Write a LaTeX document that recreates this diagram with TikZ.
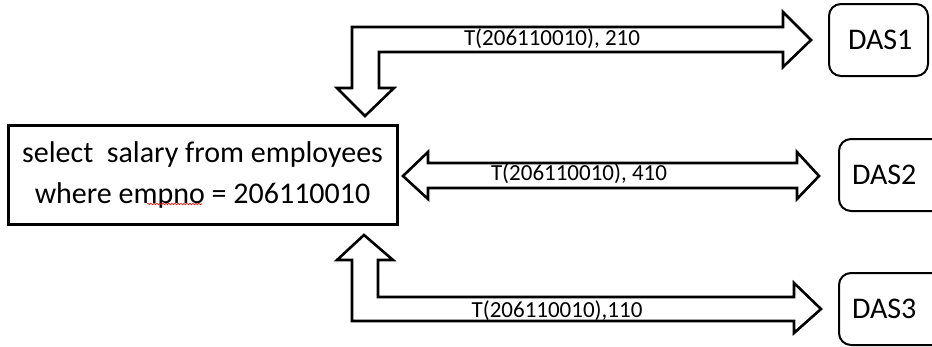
\documentclass[tikz,border=0pt]{standalone}
\usepackage{fontspec}
\setmainfont{Carlito}
\usetikzlibrary{decorations.pathmorphing}

\tikzset{
  blockarrow/.style={draw=black, line width=2.6pt, fill=white, line join=miter},
  querybox/.style={draw=black, line width=3pt, minimum width=389pt, minimum height=99pt, align=center, font=\fontsize{30}{41}\selectfont},
  dasbox/.style={draw=black, line width=2pt, rounded corners=12pt, anchor=west, inner xsep=13pt, text width=73pt, minimum height=72pt, align=left, font=\fontsize{30}{36}\selectfont},
  arrowlabel/.style={font=\fontsize{23}{26}\selectfont, inner sep=0pt}
}

\begin{document}
\begin{tikzpicture}[x=1pt,y=-1pt]
\useasboundingbox (0,0) rectangle (932,346);
\fill[white] (0,0) rectangle (932,346);

% the query
\node[querybox] (query) at (202.5,174.5) {select\ \ salary from employees\\where empno = 206110010};
\draw[red, line width=.6pt, decorate, decoration={snake, amplitude=.8pt, segment length=3pt}] (147,204) -- (202,204);

% the three sites (the lower two run off the right edge)
\node[dasbox] (das1) at (828,40) {\hspace*{6pt}DAS1};
\begin{scope}
\clip (0,0) rectangle (932,346);
\node[dasbox, text width=140pt] (das2) at (838,175) {DAS2};
\node[dasbox, text width=140pt] (das3) at (838,309) {DAS3};
\end{scope}

% top: query -> DAS1, answer back down
\draw[blockarrow] (365,116) -- (394,88) -- (379,88) -- (379,52) -- (783,52) -- (783,67)
  -- (811,40) -- (783,12) -- (783,27) -- (352,27) -- (352,88) -- (337,88) -- cycle;
% middle: both ways
\draw[blockarrow] (403,176) -- (428,152) -- (428,163) -- (797,163) -- (797,152)
  -- (819,176) -- (797,199) -- (797,188) -- (428,188) -- (428,199) -- cycle;
% bottom: query -> DAS3, answer back up
\draw[blockarrow] (364,235) -- (393,260) -- (378,260) -- (378,297) -- (794,297) -- (794,283)
  -- (821,309) -- (794,333) -- (794,321) -- (352,321) -- (352,260) -- (337,260) -- cycle;

\node[arrowlabel] (lab1) at (552,39) {T(206110010), 210};
\node[arrowlabel] (lab2) at (579,174) {T(206110010), 410};
\node[arrowlabel] (lab3) at (557,311) {T(206110010),110};
\end{tikzpicture}
\end{document}
